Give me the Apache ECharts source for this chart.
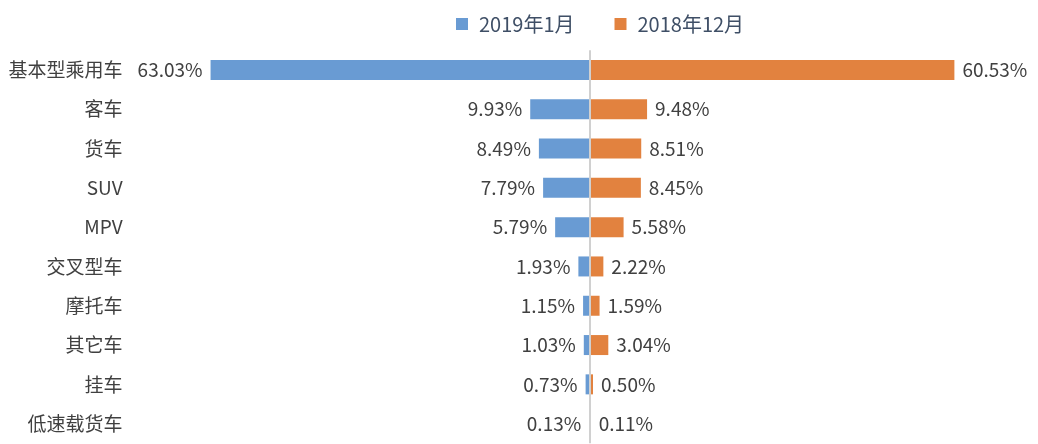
<!DOCTYPE html>
<html>
<head>
<meta charset="utf-8">
<script src="https://cdn.jsdelivr.net/npm/echarts@6/dist/echarts.min.js"></script>
<style>
  html, body { margin: 0; padding: 0; background: #fff; }
  #main { width: 1038px; height: 444px; }
</style>
</head>
<body>
<div id="main"></div>
<script>
  // 类别
  var categories = ['基本型乘用车', '客车', '货车', 'SUV', 'MPV', '交叉型车', '摩托车', '其它车', '挂车', '低速载货车'];
  // 2019年1月 (左侧)
  var jan2019 = [63.03, 9.93, 8.49, 7.79, 5.79, 1.93, 1.15, 1.03, 0.73, 0.13];
  // 2018年12月 (右侧)
  var dec2018 = [60.53, 9.48, 8.51, 8.45, 5.58, 2.22, 1.59, 3.04, 0.50, 0.11];

  var colors = ['#699BD3', '#E2823F'];
  var font = '"Noto Sans CJK SC", "Noto Sans", sans-serif';

  var myChart = echarts.init(document.getElementById('main'));
  var option = {
    animation: false,
    textStyle: { fontFamily: font },
    legend: {
      top: 9,
      left: 451,
      itemWidth: 12,
      itemHeight: 12,
      itemGap: 40,
      icon: 'rect',
      textStyle: { fontSize: 20, color: '#3F4F66', fontFamily: font, padding: [0, 0, 0, 6] },
      data: ['2019年1月', '2018年12月']
    },
    grid: {
      left: 168.6,
      right: 26.6,
      top: 50.3,
      bottom: 0.7,
      containLabel: false
    },
    xAxis: {
      type: 'value',
      min: -70,
      max: 70,
      show: false
    },
    yAxis: {
      type: 'category',
      inverse: true,
      data: categories,
      axisLine: { show: false },
      axisTick: { show: false },
      axisLabel: {
        margin: 46,
        fontSize: 19,
        color: '#404040',
        fontFamily: font
      }
    },
    series: [
      {
        name: '2019年1月',
        type: 'bar',
        stack: 'a',
        barWidth: 20,
        itemStyle: { color: colors[0] },
        label: {
          show: true,
          position: 'left',
          distance: 8,
          fontSize: 19,
          color: '#404040',
          fontFamily: font,
          formatter: function (p) { return Math.abs(p.value).toFixed(2) + '%'; }
        },
        data: jan2019.map(function (v) { return -v; }),
        markLine: {
          silent: true,
          symbol: 'none',
          label: { show: false },
          lineStyle: { color: '#D0D0D0', width: 2, type: 'solid' },
          data: [{ xAxis: 0 }]
        }
      },
      {
        name: '2018年12月',
        type: 'bar',
        stack: 'a',
        barWidth: 20,
        itemStyle: { color: colors[1] },
        label: {
          show: true,
          position: 'right',
          distance: 8,
          fontSize: 19,
          color: '#404040',
          fontFamily: font,
          formatter: function (p) { return p.value.toFixed(2) + '%'; }
        },
        data: dec2018
      }
    ]
  };
  myChart.setOption(option);
</script>
</body>
</html>
